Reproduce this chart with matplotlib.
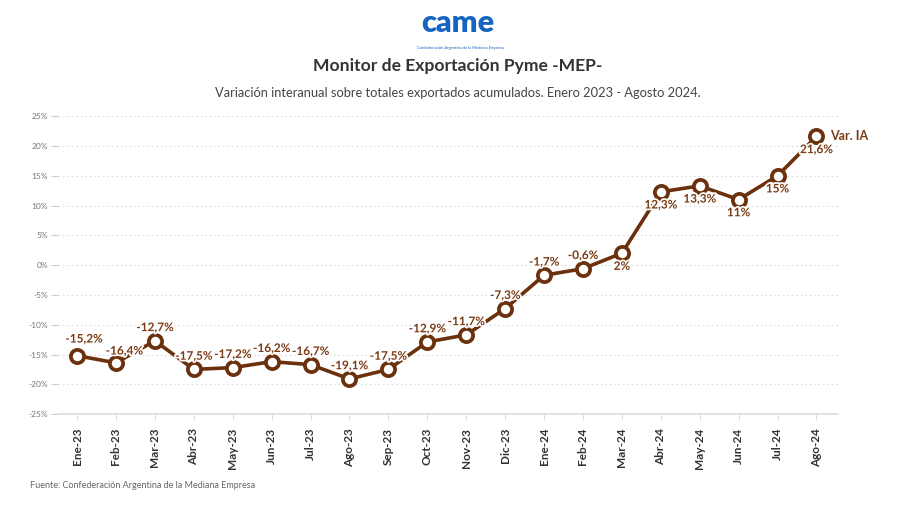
import matplotlib.pyplot as plt
import matplotlib.patheffects as pe

plt.rcParams['font.family'] = ['Lato', 'DejaVu Sans']

# Data
meses = ['Ene-23', 'Feb-23', 'Mar-23', 'Abr-23', 'May-23', 'Jun-23', 'Jul-23',
         'Ago-23', 'Sep-23', 'Oct-23', 'Nov-23', 'Dic-23', 'Ene-24', 'Feb-24',
         'Mar-24', 'Abr-24', 'May-24', 'Jun-24', 'Jul-24', 'Ago-24']
var_ia = [-15.2, -16.4, -12.7, -17.5, -17.2, -16.2, -16.7, -19.1, -17.5, -12.9,
          -11.7, -7.3, -1.7, -0.6, 2.0, 12.3, 13.3, 11.0, 15.0, 21.6]
etiquetas = ['-15,2%', '-16,4%', '-12,7%', '-17,5%', '-17,2%', '-16,2%', '-16,7%',
             '-19,1%', '-17,5%', '-12,9%', '-11,7%', '-7,3%', '-1,7%', '-0,6%',
             '2%', '12,3%', '13,3%', '11%', '15%', '21,6%']
# label above (1) or below (-1) the point
lado = [1] * 14 + [-1] * 6
y_ticks = [-25, -20, -15, -10, -5, 0, 5, 10, 15, 20, 25]

marron = '#6b300c'
marron_txt = '#7a3a14'

fig = plt.figure(figsize=(9, 5.05), dpi=100)
ax = fig.add_axes([0.064, 0.180, 0.867, 0.590])

x = list(range(len(meses)))
ax.plot(x, var_ia, color=marron, lw=2.6, marker='o', ms=9.5,
        mfc='white', mec=marron, mew=2.7, zorder=3)

halo = [pe.withStroke(linewidth=2.5, foreground='white')]
for i, (v, t, s) in enumerate(zip(var_ia, etiquetas, lado)):
    dx, dy = 0, 9.5 * s
    if i == 0:
        dx, dy = 5, 12
    elif i == 1:
        dx, dy = 6, 8.5
    ax.annotate(t, (i, v), xytext=(dx, dy), textcoords='offset points',
                ha='center', va='center', fontsize=8.5, fontweight='bold',
                color=marron_txt, path_effects=halo, zorder=4)

ax.annotate('Var. IA', (x[-1], var_ia[-1]), xytext=(10, 0),
            textcoords='offset points', ha='left', va='center',
            fontsize=9, fontweight='bold', color=marron_txt)

ax.set_xlim(-0.5, 19.55)
ax.set_ylim(-25, 25)
ax.set_yticks(y_ticks)
ax.set_yticklabels([f'{v}%' for v in y_ticks], fontsize=6, color='#777777')
ax.set_xticks(x)
ax.set_xticklabels(meses, rotation=90, fontsize=8.5, fontweight='bold',
                   color='#333333')
ax.tick_params(axis='y', length=5, color='#cccccc', pad=2)
ax.tick_params(axis='x', length=4, color='#dddddd', pad=6)
ax.grid(axis='y', linestyle=(0, (1.5, 2.5)), color='#dddddd', lw=0.8)
for s in ['top', 'right', 'left']:
    ax.spines[s].set_visible(False)
ax.spines['bottom'].set_color('#dddddd')
ax.spines['bottom'].set_linewidth(1.2)

# header
fig.text(0.509, 0.955, 'came', ha='center', va='center', fontsize=22,
         fontweight='heavy', color='#1565c0')
fig.text(0.512, 0.905, 'Confederación Argentina de la Mediana Empresa',
         ha='center', va='center', fontsize=3, color='#1565c0')
fig.text(0.509, 0.869, 'Monitor de Exportación Pyme -MEP-', ha='center',
         va='center', fontsize=12.6, fontweight='bold', color='#333333')
fig.text(0.509, 0.816, 'Variación interanual sobre totales exportados acumulados. Enero 2023 - Agosto 2024.',
         ha='center', va='center', fontsize=9.3, color='#444444')
fig.text(0.033, 0.038, 'Fuente: Confederación Argentina de la Mediana Empresa',
         ha='left', va='center', fontsize=6.5, color='#666666')

fig.savefig('out.png', dpi=100)
